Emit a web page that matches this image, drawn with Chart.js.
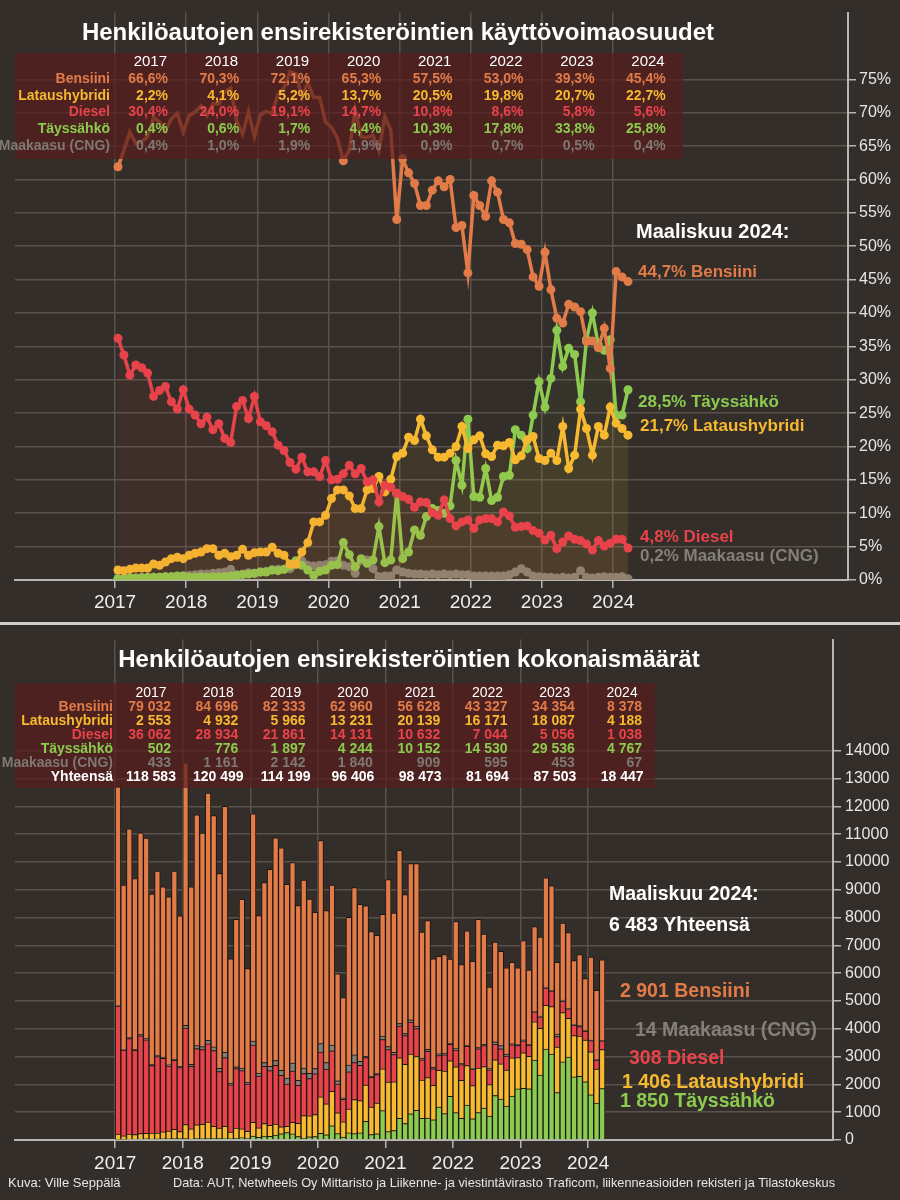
<!DOCTYPE html>
<html lang="fi">
<head>
<meta charset="UTF-8">
<title>Henkilöautojen ensirekisteröinnit</title>
<script src="https://cdn.jsdelivr.net/npm/chart.js@4/dist/chart.umd.min.js"></script>
<style>
  html, body { margin: 0; padding: 0; background: #332e2a; }
  #wrap { position: relative; width: 900px; height: 1200px; background: #332e2a; overflow: hidden; }
  #topChart { position: absolute; left: 0; top: 0; }
  #bottomChart { position: absolute; left: 0; top: 626px; }
  #sep { position: absolute; left: 0; top: 622px; width: 900px; height: 3px; background: #d0d0d0; }
</style>
</head>
<body>
<div id="wrap">
  <canvas id="topChart" width="900" height="622"></canvas>
  <div id="sep"></div>
  <canvas id="bottomChart" width="900" height="574"></canvas>
</div>

<script>
// ---- data (monthly, Jan 2017 - Mar 2024) ----
const years = ['2017', '2018', '2019', '2020', '2021', '2022', '2023', '2024'];

// monthly shares, %
const shareBensiini = [
  61.9, 64.4, 67.1, 65.4, 65.7, 66.4, 69.3, 68.6, 67.3, 69.1, 69.9, 67.1,
  69.6, 70.1, 71.0, 69.6, 71.3, 71.3, 73.1, 73.7, 68.8, 66.8, 70.1, 66.4,
  69.7, 70.2, 69.9, 72.8, 73.7, 76.2, 75.8, 72.3, 74.5, 72.3, 72.3, 68.6,
  67.8, 66.2, 62.8, 64.4, 70.4, 66.4, 66.3, 66.6, 64.3, 69.4, 67.4, 54.0,
  63.1, 61.0, 59.4, 56.1, 56.1, 58.4, 59.8, 58.9, 60.0, 52.8, 53.1, 46.0,
  57.6, 56.1, 54.5, 59.8, 58.1, 54.0, 53.5, 50.4, 50.3, 49.5, 45.4, 44.0,
  49.1, 43.5, 39.2, 38.5, 41.3, 40.9, 40.2, 35.7, 35.8, 34.8, 37.7, 31.7,
  46.2, 45.4, 44.7
];
const shareLataushybridi = [
  1.5, 1.4, 1.6, 1.8, 1.8, 1.8, 2.4, 2.2, 2.7, 3.2, 3.4, 3.2,
  3.7, 4.0, 4.2, 4.7, 4.7, 3.7, 4.0, 3.5, 3.7, 4.6, 3.7, 4.1,
  4.2, 4.2, 4.9, 4.0, 3.7, 2.4, 2.4, 4.2, 5.6, 8.7, 8.7, 9.7,
  12.2, 13.5, 13.5, 12.6, 10.7, 10.7, 13.5, 13.7, 15.5, 13.2, 15.1, 18.5,
  19.0, 21.4, 20.9, 24.1, 21.6, 19.5, 18.4, 18.4, 19.0, 20.0, 23.0, 19.7,
  21.0, 21.6, 18.9, 18.5, 20.2, 20.1, 20.6, 18.0, 18.6, 21.0, 21.5, 18.2,
  17.9, 19.0, 17.9, 23.0, 16.7, 18.7, 25.6, 22.7, 18.7, 23.0, 21.7, 25.9,
  23.5, 22.7, 21.7
];
const shareDiesel = [
  36.2, 33.7, 30.7, 32.2, 31.8, 31.0, 27.5, 28.4, 29.0, 26.7, 25.6, 28.5,
  25.6, 24.7, 23.4, 24.4, 22.5, 23.4, 21.2, 20.6, 26.0, 26.9, 24.2, 27.5,
  23.7, 23.1, 22.2, 20.2, 19.4, 17.6, 16.6, 18.4, 16.2, 16.2, 15.5, 17.9,
  15.0, 15.1, 15.9, 17.2, 15.9, 16.7, 14.7, 15.0, 11.7, 14.2, 13.9, 13.0,
  12.5, 12.1, 10.9, 11.7, 11.6, 10.1, 9.7, 12.0, 9.2, 8.1, 8.7, 9.0,
  7.7, 9.0, 9.2, 9.2, 8.7, 10.2, 9.6, 7.9, 8.0, 8.1, 7.4, 7.0,
  6.0, 6.7, 4.7, 5.7, 6.6, 6.1, 5.9, 5.4, 4.5, 5.9, 5.1, 5.5,
  6.1, 6.1, 4.8
];
const shareTayssahko = [
  0.2, 0.2, 0.3, 0.3, 0.3, 0.4, 0.4, 0.4, 0.5, 0.5, 0.6, 0.6,
  0.4, 0.4, 0.5, 0.4, 0.5, 0.5, 0.5, 0.6, 0.7, 0.8, 0.9, 1.0,
  1.2, 1.2, 1.5, 1.4, 1.6, 2.1, 2.9, 2.2, 1.5, 0.7, 1.3, 1.5,
  2.2, 2.3, 5.6, 3.8, 2.0, 3.2, 2.5, 3.0, 8.0, 2.6, 3.0, 13.0,
  3.2, 4.2, 7.5, 6.7, 9.5, 10.7, 10.4, 10.0, 11.1, 17.9, 14.2, 24.1,
  12.5, 12.4, 16.7, 11.9, 12.4, 15.5, 15.7, 22.5, 21.7, 19.7, 24.7, 29.7,
  25.9, 30.2, 37.4, 32.0, 34.7, 33.8, 26.7, 36.0, 40.0, 35.2, 34.4, 36.0,
  24.7, 24.7, 28.5
];
const shareMaakaasu = [
  0.2, 0.3, 0.3, 0.3, 0.4, 0.4, 0.4, 0.4, 0.5, 0.5, 0.5, 0.6,
  0.7, 0.8, 0.9, 0.9, 1.0, 1.1, 1.2, 1.6, 0.8, 0.9, 1.1, 1.0,
  1.2, 1.3, 1.5, 1.6, 1.6, 1.7, 2.3, 2.9, 2.2, 2.1, 2.2, 2.3,
  2.8, 2.9, 2.2, 2.0, 1.0, 3.0, 3.0, 1.7, 0.5, 0.6, 0.6, 1.5,
  1.2, 1.0, 0.9, 0.9, 0.8, 0.9, 0.8, 0.9, 0.8, 0.9, 0.8, 0.8,
  0.6, 0.6, 0.6, 0.6, 0.6, 0.6, 0.8, 1.2, 1.7, 1.2, 0.6, 0.5,
  0.4, 0.4, 0.3, 0.4, 0.3, 0.4, 1.4, 0.4, 0.3, 0.4, 0.5, 0.4,
  0.4, 0.5, 0.2
];

// monthly registrations
const countTayssahko = [
  25, 18, 34, 28, 33, 43, 35, 39, 46, 44, 58, 48,
  54, 36, 59, 44, 62, 58, 48, 72, 46, 64, 78, 62,
  141, 97, 139, 136, 174, 221, 267, 220, 126, 65, 113, 123,
  237, 190, 514, 227, 102, 256, 227, 254, 674, 195, 221, 1056,
  300, 343, 782, 592, 944, 1064, 778, 789, 724, 1183, 947, 1569,
  983, 782, 1256, 765, 985, 1149, 864, 1602, 1473, 1219, 1578, 1838,
  1857, 1845, 2872, 2336, 3272, 3089, 1706, 2808, 2984, 2270, 2294, 2092,
  1625, 1329, 1850
];
const countLataushybridi = [
  191, 128, 179, 169, 199, 195, 212, 213, 246, 280, 329, 258,
  502, 364, 491, 519, 587, 432, 383, 420, 241, 365, 320, 253,
  493, 339, 454, 390, 402, 252, 221, 419, 472, 813, 754, 794,
  1314, 1114, 1238, 753, 548, 857, 1226, 1162, 1305, 990, 1111, 1502,
  1780, 1746, 2178, 2128, 2147, 1938, 1376, 1452, 1239, 1322, 1534, 1282,
  1651, 1363, 1421, 1190, 1604, 1489, 1133, 1282, 1263, 1300, 1374, 1127,
  1283, 1161, 1375, 1679, 1575, 1709, 1636, 1771, 1395, 1484, 1447, 1505,
  1546, 1221, 1406
];
const countDiesel = [
  4605, 3090, 3435, 3027, 3514, 3367, 2434, 2746, 2642, 2336, 2476, 2297,
  3474, 2250, 2738, 2694, 2808, 2731, 2031, 2472, 1695, 2136, 2096, 1697,
  2780, 1864, 2056, 1967, 2109, 1850, 1527, 1836, 1366, 1515, 1344, 1466,
  1616, 1246, 1458, 1029, 814, 1338, 1335, 1272, 985, 1065, 1023, 1056,
  1171, 987, 1136, 1033, 1153, 1004, 726, 947, 600, 535, 580, 586,
  605, 568, 692, 592, 691, 756, 528, 562, 543, 501, 473, 433,
  430, 409, 361, 416, 622, 558, 377, 421, 336, 381, 340, 320,
  401, 328, 308
];
const countMaakaasu = [
  25, 28, 34, 28, 44, 43, 35, 39, 46, 44, 48, 48,
  95, 73, 105, 99, 125, 128, 115, 192, 52, 71, 95, 62,
  141, 105, 139, 156, 174, 179, 212, 289, 185, 196, 191, 188,
  302, 239, 202, 120, 51, 240, 272, 144, 42, 45, 44, 122,
  112, 82, 94, 79, 80, 89, 60, 71, 52, 59, 53, 52,
  47, 38, 45, 39, 48, 44, 44, 85, 115, 74, 38, 31,
  29, 24, 23, 29, 28, 37, 89, 31, 22, 26, 33, 23,
  26, 27, 14
];
const countBensiini = [
  7874, 5906, 7508, 6148, 7260, 7212, 6134, 6633, 6130, 6046, 6759, 5409,
  9445, 6387, 8307, 7684, 8898, 8321, 7003, 8844, 4486, 5304, 6071, 4096,
  8175, 5665, 6472, 7091, 8011, 8008, 6973, 7216, 6281, 6761, 6268, 5619,
  7301, 5461, 5758, 3851, 3605, 5319, 6020, 5648, 5414, 5205, 4961, 4384,
  6007, 5002, 6230, 4998, 5616, 5845, 4540, 4631, 3905, 3511, 3556, 3021,
  4574, 3559, 4106, 3844, 4612, 3972, 2931, 3589, 3396, 3096, 2927, 2761,
  3571, 2671, 3049, 2840, 3933, 3747, 2582, 2769, 2723, 2289, 2556, 1870,
  2982, 2475, 2901
];
const latestTotal = 6483;

// yearly table values
const yearShareBensiini = [66.6, 70.3, 72.1, 65.3, 57.5, 53.0, 39.3, 45.4];
const yearShareLataushybridi = [2.2, 4.1, 5.2, 13.7, 20.5, 19.8, 20.7, 22.7];
const yearShareDiesel = [30.4, 24.0, 19.1, 14.7, 10.8, 8.6, 5.8, 5.6];
const yearShareTayssahko = [0.4, 0.6, 1.7, 4.4, 10.3, 17.8, 33.8, 25.8];
const yearShareMaakaasu = [0.4, 1.0, 1.9, 1.9, 0.9, 0.7, 0.5, 0.4];

const yearCountBensiini = [79032, 84696, 82333, 62960, 56628, 43327, 34354, 8378];
const yearCountLataushybridi = [2553, 4932, 5966, 13231, 20139, 16171, 18087, 4188];
const yearCountDiesel = [36062, 28934, 21861, 14131, 10632, 7044, 5056, 1038];
const yearCountTayssahko = [502, 776, 1897, 4244, 10152, 14530, 29536, 4767];
const yearCountMaakaasu = [433, 1161, 2142, 1840, 909, 595, 453, 67];
const yearCountTotal = [118583, 120499, 114199, 96406, 98473, 81694, 87503, 18447];

// ---- styling ----
const FONT = '"Liberation Sans", Arial, sans-serif';
const NARROW = '"Liberation Sans Narrow", "Liberation Sans", Arial, sans-serif';
const C = {
  bensiini: '#e27b48',
  lataus: '#f6b92f',
  diesel: '#e8434a',
  tays: '#8ccb4f',
  maakaasu: '#857f79',
  maakaasuText: '#7f7873',
  grid: '#5a534d',
  axis: '#b5b5b5'
};

Chart.defaults.font.family = FONT;
Chart.defaults.color = '#e6e6e6';

const pct = v => v.toFixed(1).replace('.', ',') + '%';
const num = v => String(v).replace(/\B(?=(\d{3})+(?!\d))/g, ' ');
const xy = arr => arr.map((v, i) => ({ x: i, y: v }));
const rgba = (hex, a) => {
  const n = parseInt(hex.slice(1), 16);
  return `rgba(${n >> 16},${(n >> 8) & 255},${n & 255},${a})`;
};

function text(ctx, s, x, y, font, color, align, maxW) {
  ctx.font = font;
  ctx.fillStyle = color;
  ctx.textAlign = align || 'left';
  ctx.textBaseline = 'middle';
  if (maxW) ctx.fillText(s, x, y, maxW);
  else ctx.fillText(s, x, y);
}

// ---- top chart: shares ----
const topOverlay = {
  id: 'topOverlay',
  afterDatasetsDraw(chart) {
    const ctx = chart.ctx;
    ctx.save();
    // table box
    ctx.fillStyle = 'rgba(88,28,28,0.7)';
    ctx.fillRect(15, 53, 668, 106);

    const rows = [
      ['Bensiini', C.bensiini, yearShareBensiini],
      ['Lataushybridi', C.lataus, yearShareLataushybridi],
      ['Diesel', C.diesel, yearShareDiesel],
      ['Täyssähkö', C.tays, yearShareTayssahko],
      ['Maakaasu (CNG)', C.maakaasuText, yearShareMaakaasu]
    ];
    years.forEach((y, k) => text(ctx, y, 167 + 71.1 * k, 62, '15px ' + FONT, '#ffffff', 'right'));
    rows.forEach((r, j) => {
      const yy = 79 + j * 16.7;
      text(ctx, r[0], 110, yy, 'bold 14px ' + FONT, r[1], 'right');
      r[2].forEach((v, k) => text(ctx, pct(v), 168 + 71.1 * k, yy, 'bold 14px ' + FONT, r[1], 'right'));
    });

    // title
    text(ctx, 'Henkilöautojen ensirekisteröintien käyttövoimaosuudet', 398, 33, 'bold 24px ' + FONT, '#ffffff', 'center');

    // latest month labels
    const last = shareBensiini.length - 1;
    text(ctx, 'Maaliskuu 2024:', 636, 232, 'bold 20px ' + FONT, '#ffffff');
    text(ctx, pct(shareBensiini[last]) + ' Bensiini', 638, 272, 'bold 17px ' + FONT, C.bensiini);
    text(ctx, pct(shareTayssahko[last]) + ' Täyssähkö', 638, 402, 'bold 17px ' + FONT, C.tays);
    text(ctx, pct(shareLataushybridi[last]) + ' Lataushybridi', 640, 426, 'bold 17px ' + FONT, C.lataus);
    text(ctx, pct(shareDiesel[last]) + ' Diesel', 640, 537, 'bold 17px ' + FONT, C.diesel);
    text(ctx, pct(shareMaakaasu[last]) + ' Maakaasu (CNG)', 640, 556, 'bold 17px ' + FONT, C.maakaasu);
    ctx.restore();
  }
};

function lineSet(label, data, color, fillAlpha) {
  return {
    label: label,
    data: xy(data),
    borderColor: color,
    backgroundColor: rgba(color, fillAlpha),
    pointBackgroundColor: color,
    pointBorderWidth: 0,
    // no markers where the line runs under the table
    pointRadius: c => (c.parsed && c.parsed.y > 63.2 ? 0 : 4.5),
    pointHoverRadius: 4.5,
    borderWidth: 3.5,
    fill: fillAlpha > 0 ? 'origin' : false,
    tension: 0
  };
}

new Chart(document.getElementById('topChart'), {
  type: 'line',
  data: {
    datasets: [
      lineSet('Bensiini', shareBensiini, C.bensiini, 0),
      lineSet('Diesel', shareDiesel, C.diesel, 0.06),
      lineSet('Lataushybridi', shareLataushybridi, C.lataus, 0.07),
      lineSet('Täyssähkö', shareTayssahko, C.tays, 0.05),
      lineSet('Maakaasu (CNG)', shareMaakaasu, C.maakaasu, 0)
    ]
  },
  options: {
    responsive: false,
    animation: false,
    events: [],
    layout: { padding: { left: 15, top: 12, right: 0, bottom: 0 } },
    plugins: { legend: { display: false }, tooltip: { enabled: false } },
    scales: {
      x: {
        type: 'linear',
        min: -17.37,
        max: 123.1,
        afterBuildTicks: s => { s.ticks = years.map((y, k) => ({ value: 12 * k - 0.5 })); },
        afterFit: s => { s.height = 42; },
        ticks: {
          autoSkip: false, maxRotation: 0, padding: 3,
          color: '#eeeeee', font: { size: 19, family: NARROW },
          callback: (v, i) => years[i]
        },
        grid: {
          color: C.grid, lineWidth: 1.5, borderDash: [7, 5],
          tickColor: C.axis, tickLength: 8, tickWidth: 1.5, tickBorderDash: []
        },
        border: { display: true, color: C.axis, width: 2 }
      },
      y: {
        position: 'right',
        min: 0,
        max: 85,
        afterBuildTicks: s => { s.ticks = s.ticks.filter(t => t.value <= 75); },
        afterFit: s => { s.width = 52; },
        ticks: {
          stepSize: 5, padding: 3, color: '#e6e6e6', font: { size: 16 },
          callback: v => v + '%'
        },
        grid: {
          color: C.grid, lineWidth: 1.5, borderDash: [7, 5],
          tickColor: C.axis, tickLength: 8, tickWidth: 1.5, tickBorderDash: []
        },
        border: { display: true, color: C.axis, width: 2 }
      }
    }
  },
  plugins: [topOverlay]
});

// ---- bottom chart: counts ----
const bottomOverlay = {
  id: 'bottomOverlay',
  afterDatasetsDraw(chart) {
    const ctx = chart.ctx;
    ctx.save();
    ctx.fillStyle = 'rgba(88,28,28,0.7)';
    ctx.fillRect(15, 57, 640, 105);

    const rows = [
      ['Bensiini', C.bensiini, yearCountBensiini],
      ['Lataushybridi', C.lataus, yearCountLataushybridi],
      ['Diesel', C.diesel, yearCountDiesel],
      ['Täyssähkö', C.tays, yearCountTayssahko],
      ['Maakaasu (CNG)', C.maakaasuText, yearCountMaakaasu]
    ];
    years.forEach((y, k) => text(ctx, y, 151 + 67.3 * k, 66.7, '14px ' + FONT, '#ffffff', 'center'));
    rows.forEach((r, j) => {
      const yy = 80.7 + j * 14;
      text(ctx, r[0], 113, yy, 'bold 14px ' + FONT, r[1], 'right');
      r[2].forEach((v, k) => text(ctx, num(v), 171 + 67.3 * k, yy, 'bold 14px ' + FONT, r[1], 'right'));
    });
    text(ctx, 'Yhteensä', 113, 150.7, 'bold 14px ' + FONT, '#ffffff', 'right');
    yearCountTotal.forEach((v, k) => text(ctx, num(v), 151 + 67.3 * k, 150.7, 'bold 14px ' + FONT, '#ffffff', 'center'));

    text(ctx, 'Henkilöautojen ensirekisteröintien kokonaismäärät', 409, 34, 'bold 24px ' + FONT, '#ffffff', 'center');

    const last = countBensiini.length - 1;
    const f = 'bold 19.5px ' + FONT;
    text(ctx, 'Maaliskuu 2024:', 609, 269, f, '#ffffff');
    text(ctx, num(latestTotal) + ' Yhteensä', 609, 300, f, '#ffffff');
    text(ctx, num(countBensiini[last]) + ' Bensiini', 620, 366, f, C.bensiini);
    text(ctx, num(countMaakaasu[last]) + ' Maakaasu (CNG)', 635, 405, f, C.maakaasu);
    text(ctx, num(countDiesel[last]) + ' Diesel', 629, 433, f, C.diesel);
    text(ctx, num(countLataushybridi[last]) + ' Lataushybridi', 622, 456.5, f, C.lataus);
    text(ctx, num(countTayssahko[last]) + ' Täyssähkö', 620, 476, f, C.tays);

    text(ctx, 'Kuva: Ville Seppälä', 8, 557, '13px ' + NARROW, '#e6e6e6', 'left', 122);
    text(ctx, 'Data: AUT, Netwheels Oy Mittaristo ja Liikenne- ja viestintävirasto Traficom, liikenneasioiden rekisteri ja Tilastokeskus',
      173, 557, '13px ' + NARROW, '#e6e6e6', 'left', 662);
    ctx.restore();
  }
};

function barSet(label, data, color) {
  return {
    label: label,
    data: xy(data),
    backgroundColor: color,
    borderColor: '#1a1714',
    borderWidth: 1,
    barThickness: 5.6
  };
}

new Chart(document.getElementById('bottomChart'), {
  type: 'bar',
  data: {
    datasets: [
      barSet('Täyssähkö', countTayssahko, C.tays),
      barSet('Lataushybridi', countLataushybridi, C.lataus),
      barSet('Diesel', countDiesel, C.diesel),
      barSet('Maakaasu (CNG)', countMaakaasu, C.maakaasu),
      barSet('Bensiini', countBensiini, C.bensiini)
    ]
  },
  options: {
    responsive: false,
    animation: false,
    events: [],
    layout: { padding: { left: 15, top: 10, right: 0, bottom: 0 } },
    plugins: { legend: { display: false }, tooltip: { enabled: false } },
    scales: {
      x: {
        type: 'linear',
        stacked: true,
        offset: false,
        min: -18.3,
        max: 127.0,
        afterBuildTicks: s => { s.ticks = years.map((y, k) => ({ value: 12 * k - 0.5 })); },
        afterFit: s => { s.height = 60; },
        ticks: {
          autoSkip: false, maxRotation: 0, padding: 4,
          color: '#eeeeee', font: { size: 19, family: NARROW },
          callback: (v, i) => years[i]
        },
        grid: {
          offset: false,
          color: C.grid, lineWidth: 1.5, borderDash: [7, 5],
          tickColor: C.axis, tickLength: 8, tickWidth: 1.5, tickBorderDash: []
        },
        border: { display: true, color: C.axis, width: 2 }
      },
      y: {
        position: 'right',
        stacked: true,
        min: 0,
        max: 18000,
        afterBuildTicks: s => { s.ticks = s.ticks.filter(t => t.value <= 14000); },
        afterFit: s => { s.width = 67; },
        ticks: {
          stepSize: 1000, padding: 4, color: '#e6e6e6', font: { size: 16 },
          callback: v => String(v)
        },
        grid: {
          color: C.grid, lineWidth: 1.5, borderDash: [7, 5],
          tickColor: C.axis, tickLength: 8, tickWidth: 1.5, tickBorderDash: []
        },
        border: { display: true, color: C.axis, width: 2 }
      }
    }
  },
  plugins: [bottomOverlay]
});
</script>
</body>
</html>
